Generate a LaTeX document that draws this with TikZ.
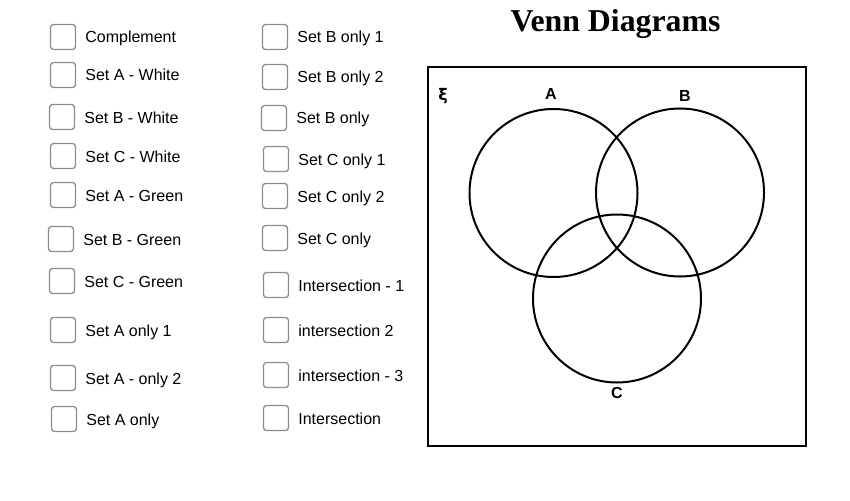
\documentclass[tikz,border=0pt]{standalone}
\usepackage{fontspec}
\setmainfont{Liberation Sans}
\newfontfamily\titlefont{Liberation Serif}
\newfontfamily\greekfont{DejaVu Sans}
\begin{document}
\begin{tikzpicture}[x=1pt,y=-1pt,
  chk/.style={draw=black!45,line width=1.3pt,rounded corners=3pt,minimum width=25pt,minimum height=25pt,inner sep=0pt},
  lbl/.style={anchor=base west,inner sep=0pt,font=\fontsize{16}{18}\selectfont},
  circ/.style={circle,draw=black,line width=2pt,minimum size=168pt,inner sep=0pt},
  clab/.style={inner sep=0pt,font=\bfseries\fontsize{16}{18}\selectfont}]
\useasboundingbox (0,0) rectangle (850,500);
\node[anchor=base,inner sep=0pt,font=\titlefont\bfseries\fontsize{31.8}{34}\selectfont] (title) at (615.5,32) {Venn Diagrams};
\foreach \n/\x/\y/\t in {c1/63/37/Complement, c2/63/75/Set A - White, c3/62/117/Set B - White, c4/63/156/Set C - White, c5/63/195/Set A - Green, c6/61/239/Set B - Green, c7/62/281/Set C - Green, c8/63/330/Set A only 1, c9/63/378/Set A - only 2, c10/64/419/Set A only,
  d1/275/37/Set B only 1, d2/275/77/Set B only 2, d3/274/118/Set B only, d4/276/159/Set C only 1, d5/275/196/Set C only 2, d6/275/238/Set C only, d7/276/285/Intersection - 1, d8/276/330/intersection 2, d9/276/375/intersection - 3, d10/276/418/Intersection}
{
  \node[chk] (\n) at (\x,\y) {};
  \node[lbl] (\n t) at ([xshift=9pt,yshift=-6pt]\n.east) {\t};
}
\node[draw=black,line width=2.8pt,minimum width=378pt,minimum height=379pt,inner sep=0pt] (frame) at (617,256.5) {};
\node[inner sep=0pt,font=\greekfont\bfseries\fontsize{16}{18}\selectfont] (xi) at (443,96) {ξ};
\node[circ] (A) at (553.5,193) {};
\node[circ] (B) at (680,192.5) {};
\node[circ] (C) at (617,298.5) {};
\node[clab] (la) at (551,94) {A};
\node[clab] (lb) at (685,96) {B};
\node[clab] (lc) at (617,393) {C};
\end{tikzpicture}
\end{document}
